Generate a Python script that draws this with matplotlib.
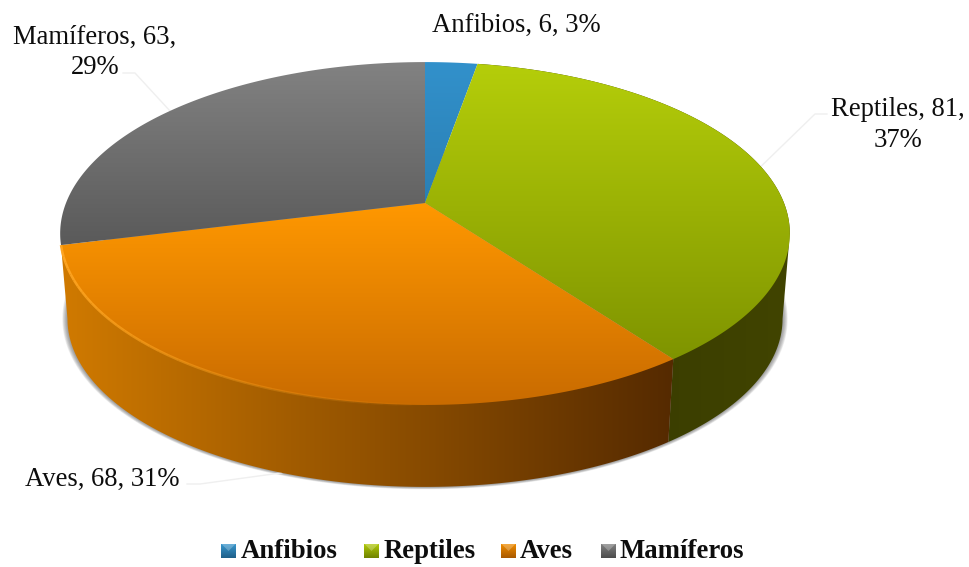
import matplotlib
matplotlib.use("Agg")
import matplotlib.pyplot as plt
import numpy as np
from matplotlib.colors import LinearSegmentedColormap
from matplotlib.patches import Polygon

names = ["Anfibios", "Reptiles", "Aves", "Mamíferos"]
values = [6, 81, 68, 63]
top_colors = [("#3291cb", "#2a7fb4"), ("#b5ce0a", "#7f9400"), ("#ff9800", "#c96b00"), ("#828282", "#5a5a5a")]
side_colors = {1: ("#333600", "#414400"), 2: ("#d07a00", "#552a00")}
swatch_colors = [("#3a9ad2", "#1f5f88"), ("#b5ce0a", "#6f8200"), ("#f59000", "#a85800"), ("#858585", "#4c4c4c")]

# pie seen in perspective, in pixel coordinates
cx = 425
top_y = 203
low_y = 289
W = 359
H = 166
k = 0.178
low_scale = 0.98
ext_right = np.arccos(-k)
ext_left = 2 * np.pi - ext_right


def top_pt(a):
    w = 1 + k * np.cos(a)
    return cx + W * np.sin(a) / w, top_y - H * np.cos(a) / w


def low_pt(a):
    w = 1 + k * np.cos(a)
    return cx + low_scale * W * np.sin(a) / w, low_y - low_scale * H * np.cos(a) / w


def grad_fill(ax, xy, c0, c1, vertical=True, z=2):
    xy = np.array(xy)
    x0, x1 = xy[:, 0].min(), xy[:, 0].max()
    y0, y1 = xy[:, 1].min(), xy[:, 1].max()
    cmap = LinearSegmentedColormap.from_list("g", [c0, c1])
    g = np.linspace(0, 1, 256)
    g = g.reshape(-1, 1) if vertical else g.reshape(1, -1)
    im = ax.imshow(g, cmap=cmap, extent=(x0, x1, y1, y0), aspect="auto", zorder=z, interpolation="bilinear")
    p = Polygon(xy, closed=True, transform=ax.transData)
    im.set_clip_path(p)


fig = plt.figure(figsize=(9.7, 5.67), dpi=100)
ax = fig.add_axes([0, 0, 1, 1])

total = sum(values)
edges = 2 * np.pi * np.cumsum([0] + values) / total

# soft shadow under the pie
t = np.linspace(0, 2 * np.pi, 300)
lx, ly = low_pt(t)
for i in range(8):
    s = 1 + 0.0018 * (8 - i)
    sx = cx + (lx - cx) * s
    sy = (low_y + 30) + (ly - (low_y + 30)) * s
    ax.add_patch(Polygon(np.c_[sx, sy], closed=True, fc="#606060", ec="none", alpha=0.1, zorder=1))

# sides, only the two front slices show
a = np.linspace(edges[1], ext_right, 100)
b = np.linspace(ext_right, edges[2], 100)
xy = np.r_[np.c_[top_pt(a)], np.c_[low_pt(b)], [top_pt(edges[2])]]
grad_fill(ax, xy, side_colors[1][0], side_colors[1][1], vertical=False, z=2)

a = np.linspace(edges[2], ext_left, 200)
xy = np.r_[[top_pt(edges[2])], np.c_[low_pt(a)], [top_pt(edges[3])]]
grad_fill(ax, xy, side_colors[2][0], side_colors[2][1], vertical=False, z=2)

# top face
for i in range(len(values)):
    a = np.linspace(edges[i], edges[i + 1], 200)
    tx, ty = top_pt(a)
    xy = np.r_[[[cx, top_y]], np.c_[tx, ty]]
    grad_fill(ax, xy, top_colors[i][0], top_colors[i][1], vertical=True, z=3)

# lighter rim on the orange slice, fades out towards the right
a = np.linspace(edges[3], edges[2], 60)
tx, ty = top_pt(a)
for i in range(len(a) - 1):
    ax.plot(tx[i:i + 2], ty[i:i + 2], color="#ffa623", lw=1.8, alpha=max(0, 1 - i / 40), zorder=4,
            solid_capstyle="butt")

# leader lines
mids = (edges[:-1] + edges[1:]) / 2
leader = dict(color="#efefef", lw=1, zorder=1)
gx, gy = top_pt(mids[1])
ax.plot([gx, 815, 827], [gy, 114, 114], **leader)
gx, gy = top_pt(mids[3])
ax.plot([gx, 135, 123], [gy, 73, 73], **leader)
gx, gy = low_pt(mids[2])
ax.plot([gx, 200, 187], [gy, 484, 484], **leader)

# data labels
pct = [round(100 * v / total) for v in values]
lab = dict(family="Liberation Serif", fontsize=19.2, color="#0d0d0d", zorder=6, linespacing=1.27)
ax.text(516, 32, f"{names[0]}, {values[0]}, {pct[0]}%", ha="center", va="baseline", **lab)
ax.text(898, 125, f"{names[1]}, {values[1]},\n{pct[1]}%", ha="center", va="center", **lab)
ax.text(102, 486, f"{names[2]}, {values[2]}, {pct[2]}%", ha="center", va="baseline", **lab)
ax.text(95, 52, f"{names[3]}, {values[3]},\n{pct[3]}%", ha="center", va="center", **lab)

# legend
sw_x = [221, 364, 501, 601]
tx_x = [241, 384, 520, 620]
for i in range(len(names)):
    x0 = sw_x[i]
    grad_fill(ax, [(x0, 543.5), (x0 + 15, 543.5), (x0 + 15, 558.5), (x0, 558.5)],
              swatch_colors[i][0], swatch_colors[i][1], vertical=True, z=5)
    ax.add_patch(Polygon([(x0, 543.5), (x0 + 15, 543.5), (x0 + 7.5, 551)], closed=True, fc="white", ec="none",
                         alpha=0.25, zorder=5.5))
    ax.text(tx_x[i], 558.5, names[i], family="Liberation Serif", fontweight="bold", fontsize=19.3,
            color="#0d0d0d", ha="left", va="baseline", zorder=6)

ax.set_xlim(0, 970)
ax.set_ylim(567, 0)
ax.axis("off")
fig.savefig("out.png", dpi=100, facecolor="white")
